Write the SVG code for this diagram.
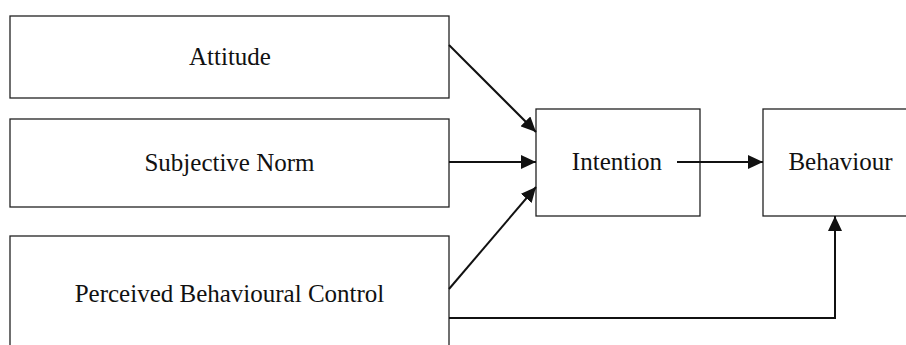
<svg xmlns="http://www.w3.org/2000/svg" width="906" height="345" viewBox="0 0 906 345">
<style>
.box{fill:#fff;stroke:#222;stroke-width:1.3}
.lbl{font-family:"Liberation Serif","Times New Roman",serif;font-size:25px;fill:#111;text-anchor:middle}
.con{fill:none;stroke:#111;stroke-width:2}
</style>
<defs>
<marker id="ah" markerUnits="userSpaceOnUse" markerWidth="16" markerHeight="14" refX="15" refY="7" orient="auto">
<path d="M0,0 L15,7 L0,14 Z" fill="#111"/>
</marker>
</defs>
<rect width="906" height="345" fill="#fff"/>
<g id="attitude">
<rect class="box" x="10" y="16" width="439" height="82"/>
<text class="lbl" x="230" y="65">Attitude</text>
</g>
<g id="subjective-norm">
<rect class="box" x="10" y="119" width="439" height="88"/>
<text class="lbl" x="229.5" y="171">Subjective Norm</text>
</g>
<g id="pbc">
<rect class="box" x="10" y="236" width="439" height="120"/>
<text class="lbl" x="229.5" y="302">Perceived Behavioural Control</text>
</g>
<g id="intention">
<rect class="box" x="536" y="109" width="164" height="107"/>
<text class="lbl" x="617" y="170">Intention</text>
</g>
<g id="behaviour">
<rect class="box" x="763" y="109" width="160" height="107"/>
<text class="lbl" x="840.5" y="170">Behaviour</text>
</g>
<g id="connectors">
<line class="con" x1="449" y1="45" x2="536" y2="132" marker-end="url(#ah)"/>
<line class="con" x1="449" y1="162" x2="536" y2="162" marker-end="url(#ah)"/>
<line class="con" x1="449" y1="289" x2="536" y2="187" marker-end="url(#ah)"/>
<line class="con" x1="677" y1="162" x2="763" y2="162" marker-end="url(#ah)"/>
<polyline class="con" points="449,318 835,318 835,216" marker-end="url(#ah)"/>
</g>
</svg>
